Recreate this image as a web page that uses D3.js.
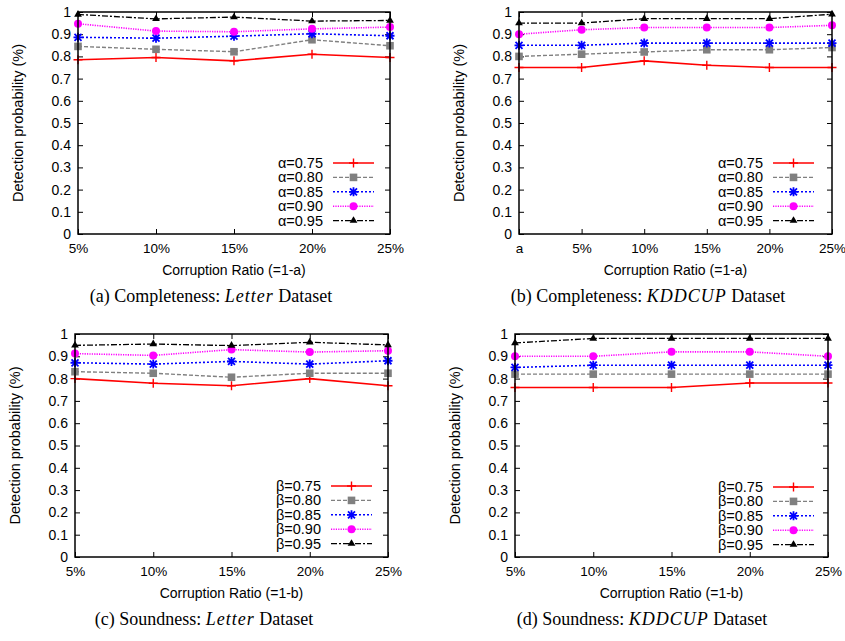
<!DOCTYPE html>
<html><head><meta charset="utf-8">
<script src="https://cdn.jsdelivr.net/npm/d3@7"></script>
<style>body{margin:0;background:#fff}svg{display:block}</style>
</head><body>
<svg id="chart" width="845" height="641"></svg>
<script>
// ---------- data ----------
const ratiosLetter = ["5%", "10%", "15%", "20%", "25%"];
const ratiosKdd = ["a", "5%", "10%", "15%", "20%", "25%"];
const yTickValues = [0, 0.1, 0.2, 0.3, 0.4, 0.5, 0.6, 0.7, 0.8, 0.9, 1];
const alphaLabels = ["α=0.75", "α=0.80", "α=0.85", "α=0.90", "α=0.95"];
const betaLabels = ["β=0.75", "β=0.80", "β=0.85", "β=0.90", "β=0.95"];

const completenessLetter075 = [0.785, 0.795, 0.78, 0.81, 0.795];
const completenessLetter080 = [0.845, 0.832, 0.821, 0.875, 0.848];
const completenessLetter085 = [0.886, 0.882, 0.891, 0.902, 0.893];
const completenessLetter090 = [0.947, 0.914, 0.911, 0.924, 0.932];
const completenessLetter095 = [0.989, 0.969, 0.977, 0.959, 0.962];

const completenessKdd075 = [0.75, 0.75, 0.78, 0.76, 0.75, 0.75];
const completenessKdd080 = [0.80, 0.81, 0.82, 0.83, 0.83, 0.84];
const completenessKdd085 = [0.85, 0.85, 0.86, 0.86, 0.86, 0.86];
const completenessKdd090 = [0.90, 0.92, 0.93, 0.93, 0.93, 0.94];
const completenessKdd095 = [0.95, 0.95, 0.97, 0.97, 0.97, 0.99];

const soundnessLetter075 = [0.80, 0.779, 0.768, 0.80, 0.768];
const soundnessLetter080 = [0.831, 0.824, 0.806, 0.824, 0.824];
const soundnessLetter085 = [0.871, 0.865, 0.877, 0.865, 0.88];
const soundnessLetter090 = [0.912, 0.904, 0.93, 0.919, 0.925];
const soundnessLetter095 = [0.949, 0.955, 0.948, 0.963, 0.951];

const soundnessKdd075 = [0.76, 0.76, 0.76, 0.78, 0.78];
const soundnessKdd080 = [0.82, 0.82, 0.82, 0.82, 0.82];
const soundnessKdd085 = [0.85, 0.86, 0.86, 0.86, 0.86];
const soundnessKdd090 = [0.90, 0.90, 0.92, 0.92, 0.90];
const soundnessKdd095 = [0.96, 0.98, 0.98, 0.98, 0.98];

// ---------- styles ----------
const seriesStyles = [
  {color: "#ff0000", dash: null, width: 1.6, marker: "plus"},
  {color: "#808080", dash: "4,2", width: 1.4, marker: "square"},
  {color: "#0000ff", dash: "2,2", width: 1.6, marker: "star"},
  {color: "#ff00ff", dash: "1.2,1.2", width: 1.6, marker: "circle"},
  {color: "#000000", dash: "6,2,2,2", width: 1.3, marker: "triangle"}
];

const panels = [
  {left: 78, right: 390, top: 12, bottom: 234, cats: ratiosLetter,
   series: [completenessLetter075, completenessLetter080, completenessLetter085, completenessLetter090, completenessLetter095],
   labels: alphaLabels, xTitle: "Corruption Ratio (=1-a)",
   legendX: 323, legendY: 163, capPre: "(a) Completeness: ", capIt: "Letter", capX: 211, capY: 302},
  {left: 519, right: 832, top: 12, bottom: 234, cats: ratiosKdd,
   series: [completenessKdd075, completenessKdd080, completenessKdd085, completenessKdd090, completenessKdd095],
   labels: alphaLabels, xTitle: "Corruption Ratio (=1-a)",
   legendX: 763, legendY: 163, capPre: "(b) Completeness: ", capIt: "KDDCUP", capX: 648, capY: 302},
  {left: 75, right: 388, top: 334, bottom: 557, cats: ratiosLetter,
   series: [soundnessLetter075, soundnessLetter080, soundnessLetter085, soundnessLetter090, soundnessLetter095],
   labels: betaLabels, xTitle: "Corruption Ratio (=1-b)",
   legendX: 321, legendY: 486, capPre: "(c) Soundness: ", capIt: "Letter", capX: 204, capY: 625},
  {left: 515, right: 828, top: 334, bottom: 557, cats: ratiosLetter,
   series: [soundnessKdd075, soundnessKdd080, soundnessKdd085, soundnessKdd090, soundnessKdd095],
   labels: betaLabels, xTitle: "Corruption Ratio (=1-b)",
   legendX: 763, legendY: 487, capPre: "(d) Soundness: ", capIt: "KDDCUP", capX: 642, capY: 625}
];

const svg = d3.select("#chart");
const SANS = "'Liberation Sans', Arial, sans-serif";
const SERIF = "'Liberation Serif', 'DejaVu Serif', serif";

function drawMarker(g, type, color) {
  if (type === "plus") {
    g.append("path").attr("d", "M-4.5,0H4.5M0,-4.5V4.5").attr("stroke", color).attr("stroke-width", 1.4).attr("fill", "none");
  } else if (type === "square") {
    g.append("rect").attr("x", -3.8).attr("y", -3.8).attr("width", 7.6).attr("height", 7.6).attr("fill", color);
  } else if (type === "star") {
    g.append("path").attr("d", "M-3.5,-3.5L3.5,3.5M-3.5,3.5L3.5,-3.5M-4.5,0H4.5M0,-4.5V4.5").attr("stroke", color).attr("stroke-width", 1.8).attr("fill", "none");
  } else if (type === "circle") {
    g.append("circle").attr("r", 4).attr("fill", color);
  } else if (type === "triangle") {
    g.append("path").attr("d", d3.symbol().type(d3.symbolTriangle).size(26)()).attr("fill", color);
  }
}

panels.forEach(p => {
  const x = d3.scalePoint().domain(p.cats).range([p.left, p.right]);
  const y = d3.scaleLinear().domain([0, 1]).range([p.bottom, p.top]);
  const g = svg.append("g");
  const tk = 5;

  const ax = (axis, tr) => {
    const a = g.append("g").attr("transform", tr).call(axis);
    a.select(".domain").remove();
    a.selectAll("line").attr("stroke", "#000").attr("stroke-width", 1);
    a.selectAll("text").attr("font-family", SANS).attr("font-size", 14).attr("fill", "#000");
    return a;
  };
  ax(d3.axisLeft(y).tickValues(yTickValues).tickSizeInner(-tk).tickSizeOuter(0).tickPadding(7).tickFormat(d3.format("~g")),
     `translate(${p.left},0)`);
  ax(d3.axisRight(y).tickValues(yTickValues).tickSizeInner(-tk).tickSizeOuter(0).tickFormat(""),
     `translate(${p.right},0)`);
  const bx = ax(d3.axisBottom(x).tickSizeInner(-tk).tickSizeOuter(0).tickPadding(9),
     `translate(0,${p.bottom})`);
  bx.selectAll("text").attr("font-size", 13.5);
  ax(d3.axisTop(x).tickSizeInner(-tk).tickSizeOuter(0).tickFormat(""),
     `translate(0,${p.top})`);

  const line = d3.line().x((d, i) => x(p.cats[i])).y(d => y(d));
  p.series.forEach((vals, si) => {
    const st = seriesStyles[si];
    g.append("path").datum(vals).attr("d", line).attr("fill", "none")
      .attr("stroke", st.color).attr("stroke-width", st.width)
      .attr("stroke-dasharray", st.dash);
    vals.forEach((v, i) => {
      const m = g.append("g").attr("transform", `translate(${x(p.cats[i])},${y(v)})`);
      drawMarker(m, st.marker, st.color);
    });
  });

  g.append("rect").attr("x", p.left).attr("y", p.top)
    .attr("width", p.right - p.left).attr("height", p.bottom - p.top)
    .attr("fill", "none").attr("stroke", "#000").attr("stroke-width", 1.5);

  p.labels.forEach((lab, si) => {
    const st = seriesStyles[si];
    const ly = p.legendY + si * 14.4;
    g.append("text").attr("x", p.legendX).attr("y", ly).attr("dy", "0.35em")
      .attr("text-anchor", "end").attr("font-family", SANS).attr("font-size", 14.5).text(lab);
    const x0 = p.legendX + 10, x1 = p.legendX + 51;
    g.append("line").attr("x1", x0).attr("x2", x1).attr("y1", ly).attr("y2", ly)
      .attr("stroke", st.color).attr("stroke-width", st.width).attr("stroke-dasharray", st.dash);
    drawMarker(g.append("g").attr("transform", `translate(${(x0 + x1) / 2},${ly})`), st.marker, st.color);
  });

  g.append("text").attr("x", (p.left + p.right) / 2).attr("y", p.bottom + 36).attr("dy", "0.35em")
    .attr("text-anchor", "middle").attr("font-family", SANS).attr("font-size", 14).text(p.xTitle);
  const cy = (p.top + p.bottom) / 2;
  g.append("text").attr("transform", `translate(${p.left - 60},${cy}) rotate(-90)`).attr("dy", "0.35em")
    .attr("text-anchor", "middle").attr("font-family", SANS).attr("font-size", 14.5).text("Detection probability (%)");

  const cap = g.append("text").attr("x", p.capX).attr("y", p.capY).attr("text-anchor", "middle")
    .attr("font-family", SERIF).attr("font-size", 18);
  cap.append("tspan").text(p.capPre);
  cap.append("tspan").attr("font-style", "italic").attr("letter-spacing", 1).text(p.capIt);
  cap.append("tspan").text(" Dataset");
});
</script>
</body></html>
